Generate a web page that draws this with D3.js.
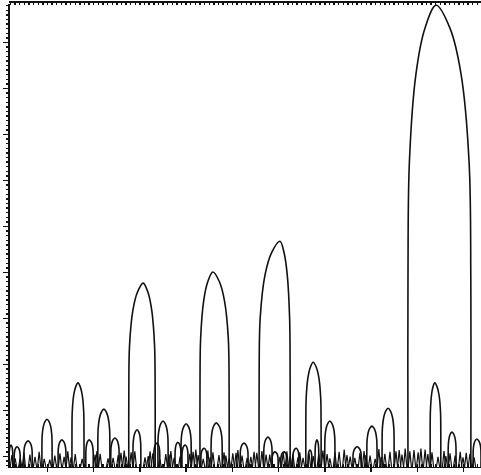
<!DOCTYPE html>
<html>
<head>
<meta charset="utf-8">
<script src="https://cdn.jsdelivr.net/npm/d3@7"></script>
<style>
  body { margin: 0; background: #fff; }
  svg { display: block; }
  .axis path, .axis line { stroke: #111; stroke-width: 1.4; shape-rendering: crispEdges; }
  .lobe { fill: none; stroke: #111; stroke-width: 1.6; stroke-linejoin: round; }
  .spike { fill: none; stroke: #111; stroke-width: 1.2; }
</style>
</head>
<body>
<div class="chart-container"></div>
<script>
// lobes: left base, peak position, right base, peak height (axis units)
var lobeLo  = [17.7, 33.1, 45.9, 78.1, 56.0, 5.4, 82.9, 72.5, 11.0, -1.1, 24.0, 29.0, 35.5, 60.1, 69.2, 86.8, 92.2, 18.6,
               -5.0, -7.1, 2.4, 8.4, 13.8, 23.1, 27.7, 29.2, 33.3, 41.8, 46.9, 48.7, 50.6, 53.2, 56.5, 58.0, 66.2, -8.2];
var lobeX   = [20.8, 35.9, 50.4, 84.2, 57.6, 6.7, 83.9, 73.8, 12.3, 0.0, 25.1, 30.1, 36.6, 61.2, 70.3, 87.6, 93.0, 19.5,
               -4.1, -6.5, 3.2, 9.1, 14.7, 23.8, 28.3, 29.9, 34.0, 42.6, 47.8, 49.3, 51.3, 53.9, 56.9, 58.4, 67.1, -7.8];
var lobeHi  = [23.4, 39.4, 52.6, 91.7, 59.3, 8.0, 85.2, 75.1, 13.6, 1.1, 26.2, 31.2, 37.9, 62.3, 71.4, 88.5, 93.9, 20.3,
               -3.2, -5.8, 4.1, 10.0, 15.6, 24.4, 29.0, 30.5, 34.6, 43.5, 48.7, 50.0, 51.9, 54.5, 57.3, 58.8, 68.0, -7.4];
var lobeTop = [37.6, 40.0, 46.7, 98.0, 20.4, 15.9, 15.9, 10.4, 10.2, 8.0, 7.6, 7.0, 7.2, 7.6, 6.5, 5.2, 3.7, 5.7,
               3.3, 2.0, 3.5, 3.5, 3.9, 2.8, 3.0, 2.4, 1.7, 2.8, 4.1, 0.9, 0.9, 1.7, 1.3, 3.5, 2.0, 2.4];

// little noise spikes along the baseline
var spikeX = [-7.6, -5.8, -5.0, -2.6, -1.7, -0.6, 1.7, 4.5, 5.2, 10.4, 10.8, 13.2, 16.0, 16.7, 17.1, 18.2, 21.9, 22.3,
              25.7, 26.8, 27.5, 31.6, 32.2, 32.7, 34.8, 35.3, 38.3, 38.7, 40.9, 41.3, 44.1, 44.8, 46.5, 47.4, 51.9, 52.6,
              54.7, 55.4, 59.7, 60.6, 63.2, 64.3, 65.6, 68.6, 69.0, 71.8, 72.3, 75.5, 76.2, 76.8, 77.5, 80.3, 81.8, 85.9,
              86.3, 89.4, 90.0, 90.7,
              -6.9, -3.7, 0.6, 2.8, 3.7, 6.1, 7.6, 11.5, 14.3, 15.4, 19.0, 21.2, 22.9, 24.4, 26.4, 28.8, 30.9, 33.8,
              35.9, 37.2, 39.4, 40.2, 42.2, 43.3, 45.4, 48.2, 50.4, 51.1, 53.2, 54.3, 56.7, 57.6, 58.8, 61.2, 62.3, 64.9,
              66.6, 67.7, 69.9, 71.0, 73.1, 74.2, 78.5, 79.4, 80.9, 82.4, 83.3, 84.6, 87.2, 88.3, 91.5, 92.4];
var spikeTop = [0.2, -0.4, 0.8, -0.2, 0.9, -0.6, 0.1, 1.0, -0.3, 0.3, 1.1, -0.5, 0.7, 1.2, -0.1, 0.8, 0.0, 1.0,
                0.4, 1.1, -0.4, 0.9, 1.4, 0.2, 1.2, -0.3, 0.8, 0.1, 0.7, 1.3, -0.2, 0.9, 1.1, 0.3, 1.0, 0.0,
                0.8, -0.4, 1.2, 0.4, 0.9, 1.4, -0.1, 1.1, 0.2, 1.5, -0.2, 1.0, 1.3, 0.3, 1.6, 0.8, 1.4, 1.1,
                0.0, 0.9, -0.3, 0.7,
                -0.5, 0.3, -0.8, 0.6, -0.2, 0.4, -0.6, 0.5, -0.4, 0.2, 1.0, -0.3, 0.6, -0.7, 0.3, -0.1, 0.5, -0.6,
                0.8, 0.2, -0.5, 0.6, 0.1, -0.4, 0.7, 0.3, -0.2, 0.9, 0.4, -0.3, 0.6, 0.0, 0.5, -0.5, 0.8, 0.2,
                -0.4, 0.7, 0.1, -0.6, 0.5, 0.9, 1.0, 1.3, 1.6, 0.4, 0.8, -0.2, 0.6, 0.1, 0.5, -0.3];

var xMajor = d3.range(0, 100, 10);
var xMinor = d3.range(-8, 94, 1);
var yMajor = d3.range(0, 100, 10);
var yMinor = d3.range(-2, 99, 1);

var W = 481, H = 475;
var x = d3.scaleLinear().domain([-8.44, 93.9]).range([8, 481]),
    y = d3.scaleLinear().domain([-2.39, 98.5]).range([467, 3]);
var base = y.domain()[0];

var svg = d3.select(".chart-container").append("svg")
    .attr("width", W)
    .attr("height", H);

// frame + ticks
svg.append("g").attr("class", "axis")
    .attr("transform", "translate(0,1.5)")
    .call(d3.axisBottom(x).tickValues(xMinor).tickSize(3).tickSizeOuter(0).tickFormat(""));
svg.append("g").attr("class", "axis")
    .attr("transform", "translate(0,467)")
    .call(d3.axisTop(x).tickValues(xMinor).tickSize(3).tickSizeOuter(0).tickFormat(""));
svg.append("g").attr("class", "axis")
    .attr("transform", "translate(0,467)")
    .call(d3.axisBottom(x).tickValues(xMajor).tickSize(5).tickSizeOuter(0).tickFormat(""));
svg.append("g").attr("class", "axis")
    .attr("transform", "translate(8.5,0)")
    .call(d3.axisLeft(y).tickValues(yMinor).tickSize(3).tickSizeOuter(0).tickFormat(""));
svg.append("g").attr("class", "axis")
    .attr("transform", "translate(8.5,0)")
    .call(d3.axisLeft(y).tickValues(yMajor).tickSize(6).tickSizeOuter(0).tickFormat(""));

var line = d3.line()
    .x(function(d) { return x(d[0]); })
    .y(function(d) { return y(d[1]); })
    .curve(d3.curveCatmullRom.alpha(0.5));

// arch outline: straight sides, rounded but slightly pointed cap
function lobePoints(i) {
    var lo = lobeLo[i], c = lobeX[i], hi = lobeHi[i], h = lobeTop[i] - base;
    return [
        [lo, base], [lo, base + 0.4 * h],
        [c - 0.95 * (c - lo), base + 0.66 * h],
        [c - 0.72 * (c - lo), base + 0.85 * h],
        [c - 0.4 * (c - lo), base + 0.95 * h],
        [c, lobeTop[i]],
        [c + 0.4 * (hi - c), base + 0.95 * h],
        [c + 0.72 * (hi - c), base + 0.85 * h],
        [c + 0.95 * (hi - c), base + 0.66 * h],
        [hi, base + 0.4 * h], [hi, base]
    ];
}

var plot = svg.append("g").attr("class", "plot-area");

plot.selectAll("path.lobe")
    .data(d3.range(lobeX.length))
    .enter().append("path")
    .attr("class", "lobe")
    .attr("d", function(i) { return line(lobePoints(i)); });

var spikeLine = d3.line()
    .x(function(d) { return x(d[0]); })
    .y(function(d) { return y(d[1]); });

plot.selectAll("path.spike")
    .data(d3.range(spikeX.length))
    .enter().append("path")
    .attr("class", "spike")
    .attr("d", function(i) {
        return spikeLine([[spikeX[i] - 0.35, base], [spikeX[i], spikeTop[i]], [spikeX[i] + 0.35, base]]);
    });
</script>
</body>
</html>
